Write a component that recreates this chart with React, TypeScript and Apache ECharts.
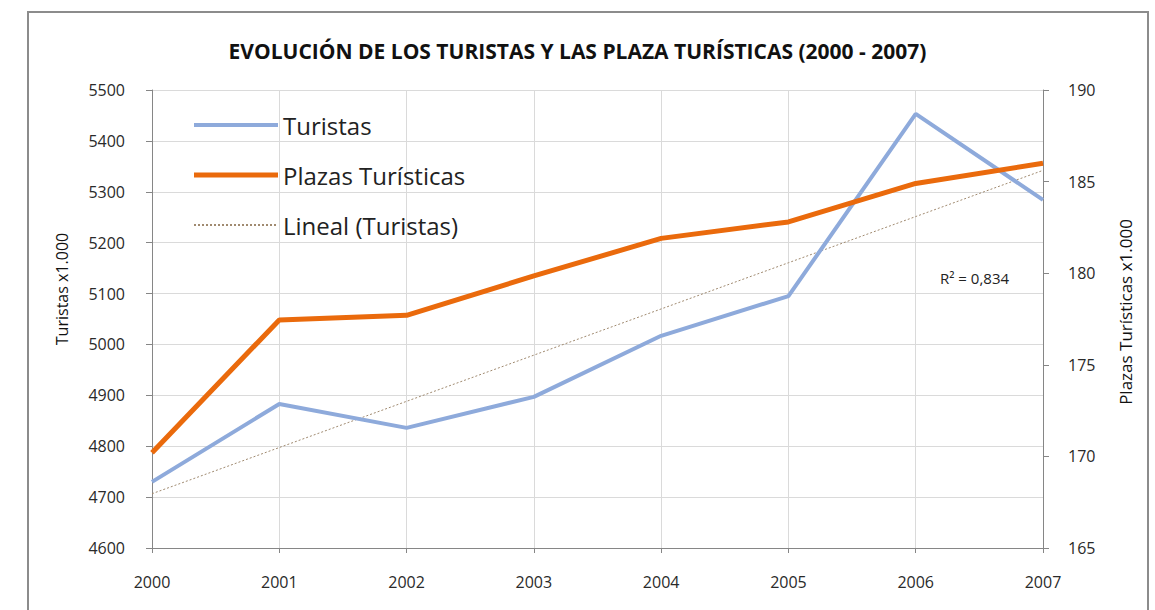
import React, { useEffect, useRef } from "react";
import * as echarts from "echarts";

const years = ["2000", "2001", "2002", "2003", "2004", "2005", "2006", "2007"];
const turistas = [4730, 4883, 4836, 4897, 5017, 5095, 5453, 5284];
const plazas = [170.2, 177.45, 177.7, 179.85, 181.9, 182.8, 184.9, 186.0];
const rSquaredLabel = "R² = 0,834";

function linearTrend(vals: number[]): number[] {
  const n = vals.length;
  const mx = (n - 1) / 2;
  const my = vals.reduce((a, b) => a + b, 0) / n;
  let sxy = 0;
  let sxx = 0;
  vals.forEach((v, i) => {
    sxy += (i - mx) * (v - my);
    sxx += (i - mx) * (i - mx);
  });
  const slope = sxy / sxx;
  return vals.map((_, i) => my + slope * (i - mx));
}

const trend = linearTrend(turistas);

export default function App() {
  const ref = useRef<HTMLDivElement>(null);
  useEffect(() => {
    if (!ref.current) return;
    const chart = echarts.init(ref.current, undefined, { renderer: "svg" });
    const font = "'Open Sans', 'DejaVu Sans', sans-serif";
    const axisLabel = { color: "#2a2a2a", fontSize: 16, fontFamily: font };
    chart.setOption({
      animation: false,
      backgroundColor: "#fff",
      textStyle: { fontFamily: font },
      title: {
        text: "EVOLUCIÓN DE LOS TURISTAS Y LAS PLAZA TURÍSTICAS (2000 - 2007)",
        left: "center",
        top: 35,
        textStyle: { fontSize: 21, fontWeight: "bold", color: "#111", fontFamily: font },
      },
      graphic: [
        {
          type: "rect",
          shape: { x: 28, y: 12, width: 1120, height: 640 },
          style: { fill: "none", stroke: "#8c8c8c", lineWidth: 2 },
          silent: true,
          z: -1,
        },
        {
          type: "text",
          left: 940,
          top: 270,
          style: { text: rSquaredLabel, fontSize: 15, fill: "#222", fontFamily: font },
        },
        {
          type: "text",
          x: 62,
          y: 289,
          rotation: Math.PI / 2,
          style: {
            text: "Turistas x1.000",
            fontSize: 16,
            fill: "#111",
            fontFamily: font,
            align: "center",
            verticalAlign: "middle",
          },
        },
        {
          type: "text",
          x: 1125,
          y: 312,
          rotation: Math.PI / 2,
          style: {
            text: "Plazas Turísticas x1.000",
            fontSize: 17,
            fill: "#111",
            fontFamily: font,
            align: "center",
            verticalAlign: "middle",
          },
        },
      ],
      legend: {
        orient: "vertical",
        left: 188,
        top: 106,
        itemWidth: 84,
        itemHeight: 14,
        itemGap: 22,
        itemStyle: { opacity: 0 },
        textStyle: { fontSize: 24, color: "#222", lineHeight: 28, fontFamily: font },
        data: [
          {
            name: "Turistas",
            icon: "path://M0,0H84V4H0Z",
            itemStyle: { opacity: 1, color: "#8eaadb" },
          },
          {
            name: "Plazas Turísticas",
            icon: "path://M0,0H84V5H0Z",
            itemStyle: { opacity: 1, color: "#ea6a0c" },
          },
          { name: "Lineal (Turistas)" },
        ],
      },
      grid: { left: 152, right: 112, top: 90, bottom: 62, containLabel: false },
      xAxis: {
        type: "category",
        data: years,
        boundaryGap: false,
        axisLine: { lineStyle: { color: "#868686" } },
        axisTick: { show: true, length: 5, lineStyle: { color: "#868686" } },
        axisLabel: { ...axisLabel, margin: 26 },
        splitLine: { show: true, lineStyle: { color: "#dadada", width: 1 } },
      },
      yAxis: [
        {
          type: "value",
          min: 4600,
          max: 5500,
          interval: 100,
          axisLine: { show: true, lineStyle: { color: "#868686" } },
          axisTick: { show: true, length: 6, lineStyle: { color: "#868686" } },
          axisLabel: { ...axisLabel, margin: 27, formatter: (v: number) => String(v) },
          splitLine: { show: true, lineStyle: { color: "#dadada", width: 1 } },
        },
        {
          type: "value",
          min: 165,
          max: 190,
          interval: 5,
          axisLine: { show: true, lineStyle: { color: "#868686" } },
          axisTick: { show: true, length: 6, lineStyle: { color: "#868686" } },
          axisLabel: { ...axisLabel, margin: 25 },
          splitLine: { show: false },
        },
      ],
      series: [
        {
          name: "Turistas",
          type: "line",
          yAxisIndex: 0,
          data: turistas,
          symbol: "none",
          lineStyle: { color: "#8eaadb", width: 4 },
          itemStyle: { color: "#8eaadb" },
          z: 3,
        },
        {
          name: "Plazas Turísticas",
          type: "line",
          yAxisIndex: 1,
          data: plazas,
          symbol: "none",
          lineStyle: { color: "#ea6a0c", width: 5 },
          itemStyle: { color: "#ea6a0c" },
          z: 4,
        },
        {
          name: "Lineal (Turistas)",
          type: "line",
          yAxisIndex: 0,
          data: trend,
          symbol: "none",
          lineStyle: { color: "#a08a70", width: 1, type: [2, 2] },
          itemStyle: { color: "#a08a70" },
          z: 2,
        },
      ],
    });
    return () => chart.dispose();
  }, []);
  return (
    <div
      ref={ref}
      style={{ position: "fixed", left: 0, top: 0, width: 1155, height: 610 }}
    />
  );
}
